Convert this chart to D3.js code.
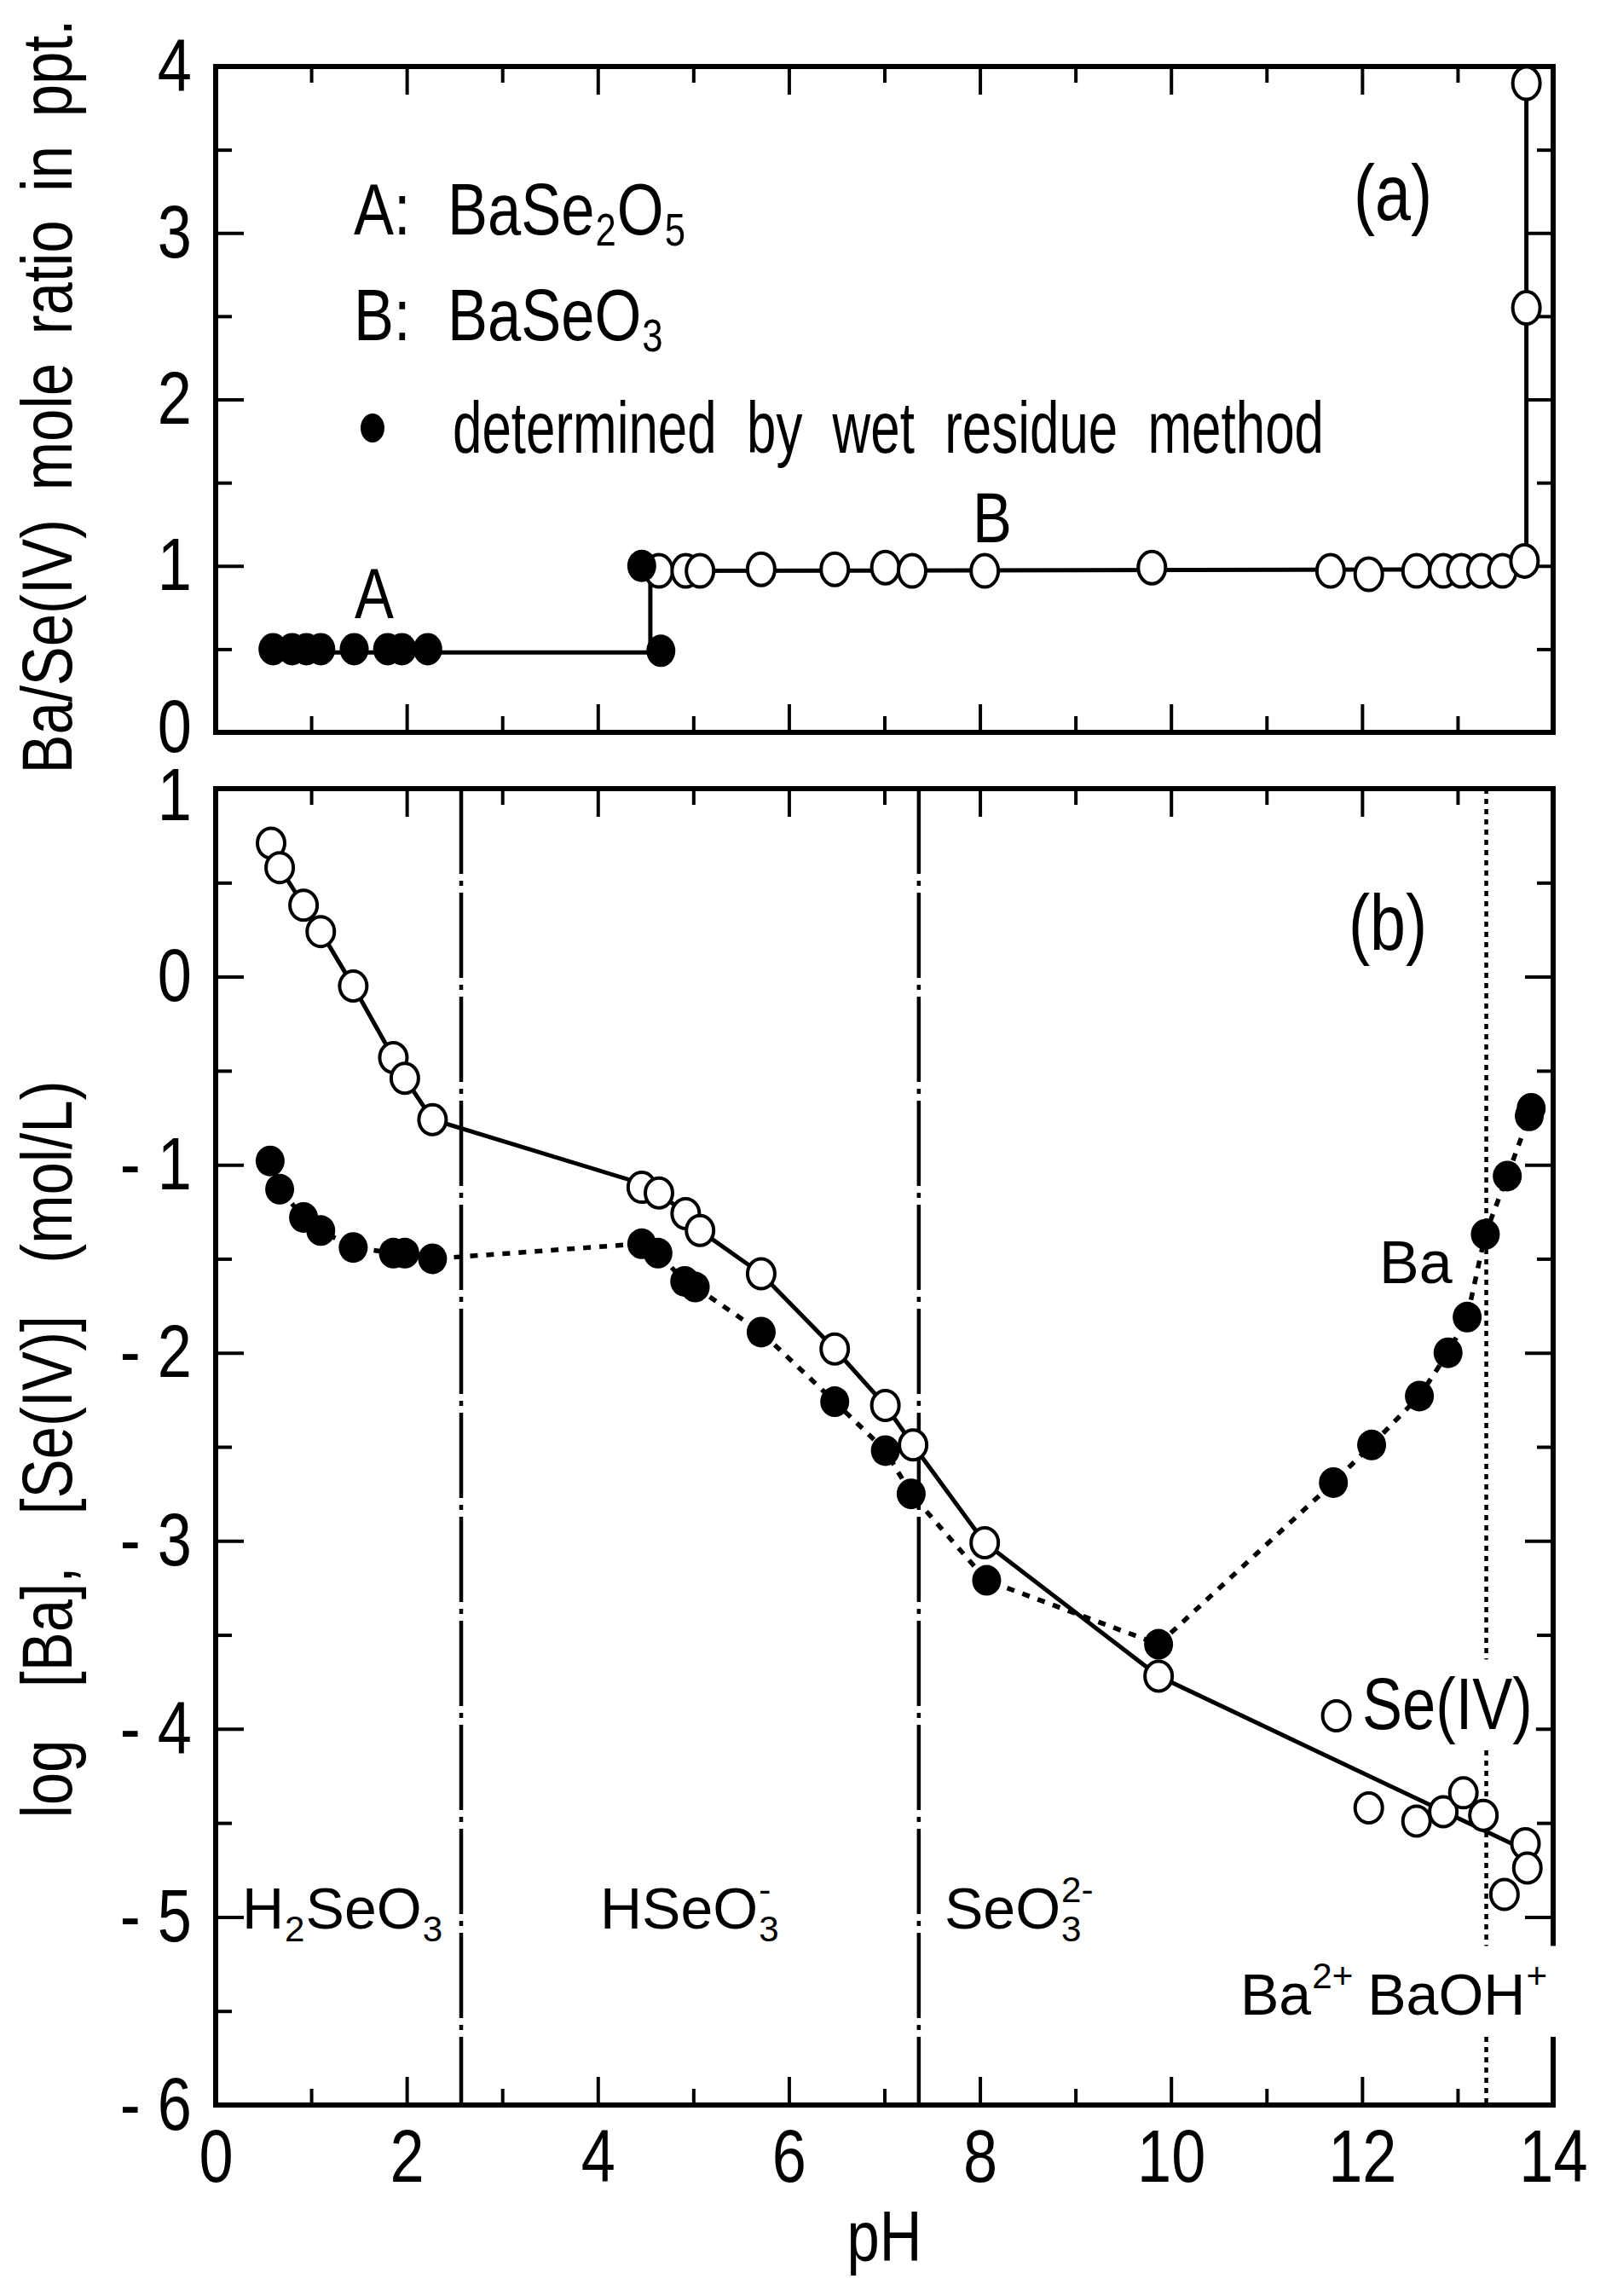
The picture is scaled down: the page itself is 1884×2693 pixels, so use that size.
<!DOCTYPE html>
<meta charset="utf-8">
<script src="https://d3js.org/d3.v7.min.js"></script>
<style>
  body { margin: 0; background: #fff; }
  text { font-family: "Liberation Sans", Arial, sans-serif; fill: #000; }
</style>
<div id="chart"></div>
<script>

// pH axis (shared by both panels)
var phMajor = [0, 2, 4, 6, 8, 10, 12, 14];
var phMinor = [1, 3, 5, 7, 9, 11, 13];

// (a) Ba/Se(IV) mole ratio in precipitate
var ratioMajor = [0, 1, 2, 3, 4];
var ratioMinor = [0.5, 1.5, 2.5, 3.5];
var wetPH  = [0.6, 0.8, 0.95, 1.1, 1.45, 1.8, 1.95, 2.22, 4.46, 4.66];
var wetVal = [0.5, 0.5, 0.5, 0.5, 0.5, 0.5, 0.5, 0.5, 1.0, 0.49];
var openPH  = [4.64, 4.92, 5.07, 5.71, 6.48, 7.01, 7.29, 8.05, 9.80, 11.67, 12.07, 12.57, 12.85, 13.04, 13.25, 13.47, 13.70, 13.72, 13.72];
var openVal = [0.97, 0.97, 0.97, 0.98, 0.98, 0.99, 0.97, 0.97, 0.99, 0.97, 0.95, 0.97, 0.97, 0.97, 0.97, 0.97, 1.03, 2.55, 3.90];
var stepPH  = [0.6, 4.55, 4.55, 4.64, 13.72, 13.72];
var stepVal = [0.48, 0.48, 1.0, 0.97, 0.98, 3.9];

// (b) log concentrations
var logMajor = [-6, -5, -4, -3, -2, -1, 0, 1];
var logMinor = [-5.5, -4.5, -3.5, -2.5, -1.5, -0.5, 0.5];
var sePH  = [0.58, 0.67, 0.92, 1.10, 1.44, 1.86, 1.98, 2.27, 4.46, 4.64, 4.92, 5.07, 5.71, 6.48, 7.01, 7.30, 8.05, 9.87, 11.73, 12.07, 12.57, 12.85, 13.06, 13.27, 13.49, 13.71, 13.73];
var seVal = [0.71, 0.58, 0.38, 0.24, -0.05, -0.43, -0.54, -0.76, -1.12, -1.15, -1.26, -1.35, -1.58, -1.98, -2.28, -2.49, -3.01, -3.72, -3.93, -4.42, -4.49, -4.44, -4.34, -4.46, -4.88, -4.61, -4.74];
var seLinePH  = [0.58, 0.67, 0.92, 1.10, 1.44, 1.86, 1.98, 2.27, 4.46, 4.64, 4.92, 5.07, 5.71, 6.48, 7.01, 7.30, 8.05, 9.87, 13.65];
var seLineVal = [0.71, 0.58, 0.38, 0.24, -0.05, -0.43, -0.54, -0.76, -1.10, -1.15, -1.26, -1.35, -1.58, -1.98, -2.28, -2.49, -3.01, -3.72, -4.63];
var baPH  = [0.57, 0.67, 0.92, 1.10, 1.44, 1.86, 1.98, 2.27, 4.46, 4.63, 4.91, 5.02, 5.71, 6.48, 7.01, 7.28, 8.07, 9.87, 11.70, 12.10, 12.60, 12.90, 13.10, 13.29, 13.52, 13.75, 13.77];
var baVal = [-0.98, -1.13, -1.28, -1.35, -1.44, -1.47, -1.47, -1.50, -1.42, -1.47, -1.62, -1.65, -1.89, -2.26, -2.52, -2.75, -3.21, -3.55, -2.69, -2.49, -2.23, -2.00, -1.81, -1.37, -1.06, -0.74, -0.70];
var pkaPH = [2.57, 7.36];   // H2SeO3 / HSeO3- / SeO3 2- boundaries
var baohPH = 13.30;         // Ba2+ / BaOH+ boundary

var W = 1884, H = 2693;
var NX = 0.82;   // horizontal squeeze for the narrow lettering
var svg = d3.select("#chart").append("svg")
  .attr("width", W).attr("height", H)
  .style("display", "block").style("background", "#fff");

var x = d3.scaleLinear().domain([0, 14]).range([253, 1822]);
var ya = d3.scaleLinear().domain([0, 4]).range([859, 78]);
var yb = d3.scaleLinear().domain([-6, 1]).range([2469, 925]);

function ticks(gen, scale, vals, len, tr, fmt, pad) {
  var a = gen(scale).tickValues(vals).tickSizeInner(-len).tickSizeOuter(0).tickPadding(pad || 28)
    .tickFormat(fmt || function() { return ""; });
  var g = svg.append("g").attr("transform", tr).call(a);
  g.select(".domain").remove();
  g.attr("font-family", null).attr("font-size", 88);
  g.selectAll("line").attr("stroke", "#000").attr("stroke-width", 4);
  g.selectAll("text").attr("fill", "#000").attr("transform", "scale(" + NX + ",1)");
  return g;
}
var minusFmt = function(d) { return d < 0 ? "- " + (-d) : String(d); };

function frame(yScale, yMaj, yMin, xLabels, yFmt) {
  var t = yScale.range()[1], b = yScale.range()[0];
  ticks(d3.axisTop, x, phMajor, 33, "translate(0," + t + ")");
  ticks(d3.axisTop, x, phMinor, 19, "translate(0," + t + ")");
  ticks(d3.axisBottom, x, phMajor, 33, "translate(0," + b + ")", xLabels ? String : null, 28);
  ticks(d3.axisBottom, x, phMinor, 19, "translate(0," + b + ")");
  var yl = ticks(d3.axisLeft, yScale, yMaj, 33, "translate(253,0)", yFmt, 28 / NX);
  ticks(d3.axisLeft, yScale, yMin, 19, "translate(253,0)");
  ticks(d3.axisRight, yScale, yMaj, 33, "translate(1822,0)");
  ticks(d3.axisRight, yScale, yMin, 19, "translate(1822,0)");
  svg.append("rect").attr("x", 253).attr("y", t).attr("width", 1822 - 253).attr("height", b - t)
    .attr("fill", "none").attr("stroke", "#000").attr("stroke-width", 6);
  return yl;
}

// one piece of text, optionally squeezed horizontally
function word(g, x0, y0, size, str, sx, extra) {
  return g.append("text")
    .attr("transform", "translate(" + x0 + "," + y0 + ")" + (extra || "") + " scale(" + sx + ",1)")
    .attr("font-size", size).text(str);
}

// chemical formula: pieces placed one after another, sub/sup stacked
function chem(g, x0, y0, parts, size, sx, shift) {
  var cx = x0;
  parts.forEach(function(p) {
    if (p.gap) { cx += p.gap; return; }
    if (p.t !== undefined) {
      cx += word(g, cx, y0, size, p.t, sx).node().getComputedTextLength() * sx;
      return;
    }
    var w = 0;
    if (p.sub !== undefined)
      w = Math.max(w, word(g, cx + 1, y0 + size * shift, size * 0.62, p.sub, sx).node().getComputedTextLength() * sx);
    if (p.sup !== undefined)
      w = Math.max(w, word(g, cx + 1, y0 - size * 0.45, size * 0.62, p.sup, sx).node().getComputedTextLength() * sx);
    cx += w + 2;
  });
  return g;
}

// spread words so a squeezed text fills a given length
function spread(t, len, sx) {
  var n = t.text().split(" ").length - 1;
  var nat = t.node().getComputedTextLength();
  if (n > 0 && len / sx > nat) t.attr("word-spacing", (len / sx - nat) / n);
  return t;
}

function ptsOf(px, py) { return px.map(function(p, i) { return [p, py[i]]; }); }

// ---------- panel (a) ----------
var yla = frame(ya, ratioMajor, ratioMinor, false, String);
// bottom "0" sits right above the "1" of panel (b)
yla.selectAll(".tick text").filter(function(d) { return d === 0; }).attr("y", -6);

svg.append("path")
  .attr("d", d3.line().x(function(d) { return x(d[0]); }).y(function(d) { return ya(d[1]); })(ptsOf(stepPH, stepVal)))
  .attr("fill", "none").attr("stroke", "#000").attr("stroke-width", 5);

svg.append("g").selectAll("ellipse").data(ptsOf(openPH, openVal)).join("ellipse")
  .attr("cx", function(d) { return x(d[0]); }).attr("cy", function(d) { return ya(d[1]); })
  .attr("rx", 16).attr("ry", 19).attr("fill", "#fff").attr("stroke", "#000").attr("stroke-width", 4);
svg.append("g").selectAll("ellipse").data(ptsOf(wetPH, wetVal)).join("ellipse")
  .attr("cx", function(d) { return x(d[0]); }).attr("cy", function(d) { return ya(d[1]); })
  .attr("rx", 17).attr("ry", 19).attr("fill", "#000");

var la = svg.append("g");
word(la, 415, 275, 86, "A:", NX);
chem(la, 525, 275, [{t: "BaSe"}, {sub: "2"}, {t: "O"}, {sub: "5"}], 86, NX, 0.15);
word(la, 415, 399, 86, "B:", NX);
chem(la, 525, 399, [{t: "BaSeO"}, {sub: "3"}], 86, NX, 0.15);
la.append("ellipse").attr("cx", 437).attr("cy", 502).attr("rx", 14).attr("ry", 17).attr("fill", "#000");
spread(word(la, 531, 531, 86, "determined by wet residue method", 0.72), 1022, 0.72);
word(la, 1588, 258, 92, "(a)", NX);
word(la, 439, 725, 84, "A", NX).attr("text-anchor", "middle");
word(la, 1164, 636, 84, "B", NX).attr("text-anchor", "middle");

spread(word(svg, 84, 465, 84, "Ba/Se(IV) mole ratio in ppt.", NX, " rotate(-90)")
  .attr("text-anchor", "middle"), 885, NX);

// ---------- panel (b) ----------
var ylb = frame(yb, logMajor, logMinor, true, minusFmt);
ylb.selectAll(".tick text").filter(function(d) { return d === 1; }).attr("y", 8);

pkaPH.forEach(function(p) {
  svg.append("line").attr("x1", x(p)).attr("x2", x(p)).attr("y1", yb(1)).attr("y2", yb(-6))
    .attr("stroke", "#000").attr("stroke-width", 4.5).attr("stroke-dasharray", "100,8,6,8");
});
svg.append("line").attr("x1", x(baohPH)).attr("x2", x(baohPH)).attr("y1", yb(1)).attr("y2", yb(-6))
  .attr("stroke", "#000").attr("stroke-width", 4.5).attr("stroke-dasharray", "6,6");

// labels with white backing (they break the dotted line)
function backed(g, pad) {
  var bb = g.node().getBBox();
  g.insert("rect", ":first-child").attr("x", bb.x - pad).attr("y", bb.y - pad)
    .attr("width", bb.width + 2 * pad).attr("height", bb.height + 2 * pad).attr("fill", "#fff");
}
var lb = svg.append("g");
chem(lb.append("g"), 284, 2262, [{t: "H"}, {sub: "2"}, {t: "SeO"}, {sub: "3"}], 68, 1, 0.22);
chem(lb.append("g"), 704, 2262, [{t: "HSeO"}, {sub: "3", sup: "-"}], 68, 1, 0.22);
chem(lb.append("g"), 1108, 2262, [{t: "SeO"}, {sub: "3", sup: "2-"}], 68, 1, 0.22);
var bl = chem(lb.append("g"), 1455, 2363, [{t: "Ba"}, {sup: "2+"}, {gap: 16}, {t: "BaOH"}, {sup: "+"}], 68, 1, 0.22);
backed(bl, 12);
var sl = lb.append("g");
word(sl, 1598, 2028, 86, "Se(IV)", NX);
backed(sl, 4);
word(lb, 1618, 1505, 70, "Ba", 1);
word(lb, 1582, 1114, 92, "(b)", NX);

var lineB = d3.line().x(function(d) { return x(d[0]); }).y(function(d) { return yb(d[1]); });
svg.append("path").attr("d", lineB(ptsOf(baPH, baVal)))
  .attr("fill", "none").attr("stroke", "#000").attr("stroke-width", 5.5).attr("stroke-dasharray", "9,10");
svg.append("path").attr("d", lineB(ptsOf(seLinePH, seLineVal)))
  .attr("fill", "none").attr("stroke", "#000").attr("stroke-width", 5);

svg.append("g").selectAll("ellipse").data(ptsOf(baPH, baVal)).join("ellipse")
  .attr("cx", function(d) { return x(d[0]); }).attr("cy", function(d) { return yb(d[1]); })
  .attr("rx", 17).attr("ry", 18).attr("fill", "#000");
svg.append("g").selectAll("ellipse").data(ptsOf(sePH, seVal)).join("ellipse")
  .attr("cx", function(d) { return x(d[0]); }).attr("cy", function(d) { return yb(d[1]); })
  .attr("rx", 16).attr("ry", 17.5).attr("fill", "#fff").attr("stroke", "#000").attr("stroke-width", 4);

spread(word(svg, 84, 1700, 84, "log [Ba], [Se(IV)] (mol/L)", NX, " rotate(-90)")
  .attr("text-anchor", "middle"), 865, NX);

word(svg, x(7), 2652, 84, "pH", NX).attr("text-anchor", "middle");

</script>
